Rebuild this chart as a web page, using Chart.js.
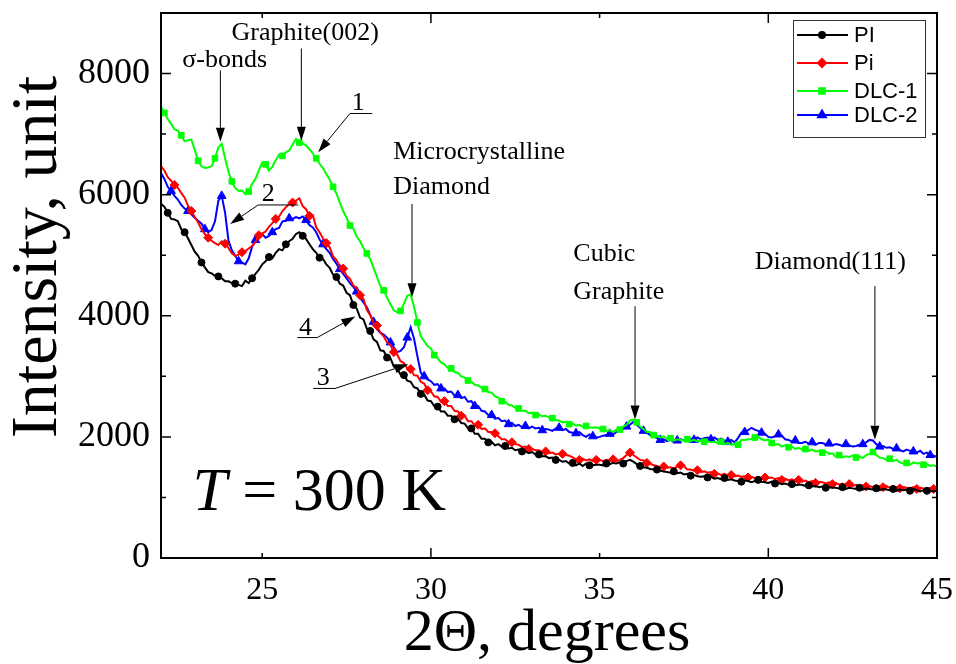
<!DOCTYPE html>
<html>
<head>
<meta charset="utf-8">
<script src="https://cdn.jsdelivr.net/npm/chart.js@4.4.1/dist/chart.umd.min.js"></script>
<style>
html,body{margin:0;padding:0;background:#fff;}
canvas{display:block;}
</style>
</head>
<body>
<canvas id="xrd" width="956" height="664"></canvas>
<script>
// 2Θ sampling grid, degrees
const twoTheta = [
22.0,22.1,22.2,22.3,22.4,22.5,22.6,22.7,22.8,22.9,
23.0,23.1,23.2,23.3,23.4,23.5,23.6,23.7,23.8,23.9,
24.0,24.1,24.2,24.3,24.4,24.5,24.6,24.7,24.8,24.9,
25.0,25.1,25.2,25.3,25.4,25.5,25.6,25.7,25.8,25.9,
26.0,26.1,26.2,26.3,26.4,26.5,26.6,26.7,26.8,26.9,
27.0,27.1,27.2,27.3,27.4,27.5,27.6,27.7,27.8,27.9,
28.0,28.1,28.2,28.3,28.4,28.5,28.6,28.7,28.8,28.9,
29.0,29.1,29.2,29.3,29.4,29.5,29.6,29.7,29.8,29.9,
30.0,30.1,30.2,30.3,30.4,30.5,30.6,30.7,30.8,30.9,
31.0,31.1,31.2,31.3,31.4,31.5,31.6,31.7,31.8,31.9,
32.0,32.1,32.2,32.3,32.4,32.5,32.6,32.7,32.8,32.9,
33.0,33.1,33.2,33.3,33.4,33.5,33.6,33.7,33.8,33.9,
34.0,34.1,34.2,34.3,34.4,34.5,34.6,34.7,34.8,34.9,
35.0,35.1,35.2,35.3,35.4,35.5,35.6,35.7,35.8,35.9,
36.0,36.1,36.2,36.3,36.4,36.5,36.6,36.7,36.8,36.9,
37.0,37.1,37.2,37.3,37.4,37.5,37.6,37.7,37.8,37.9,
38.0,38.1,38.2,38.3,38.4,38.5,38.6,38.7,38.8,38.9,
39.0,39.1,39.2,39.3,39.4,39.5,39.6,39.7,39.8,39.9,
40.0,40.1,40.2,40.3,40.4,40.5,40.6,40.7,40.8,40.9,
41.0,41.1,41.2,41.3,41.4,41.5,41.6,41.7,41.8,41.9,
42.0,42.1,42.2,42.3,42.4,42.5,42.6,42.7,42.8,42.9,
43.0,43.1,43.2,43.3,43.4,43.5,43.6,43.7,43.8,43.9,
44.0,44.1,44.2,44.3,44.4,44.5,44.6,44.7,44.8,44.9,
45.0];

// intensities
const seriesPI = [
5850,5800,5700,5600,5590,5560,5430,5380,5280,5170,
5060,4990,4880,4800,4720,4700,4660,4650,4620,4570,
4570,4540,4530,4510,4490,4580,4540,4620,4690,4760,
4850,4900,4970,4950,5040,5100,5080,5180,5230,5270,
5350,5380,5320,5270,5180,5100,5040,4960,4940,4850,
4790,4680,4640,4530,4500,4380,4340,4180,4120,3970,
3940,3790,3750,3610,3570,3430,3420,3310,3300,3160,
3130,3030,3020,2930,2910,2820,2800,2710,2700,2600,
2590,2510,2500,2420,2420,2350,2350,2290,2300,2230,
2220,2140,2140,2050,2050,1970,1970,1910,1920,1860,
1880,1840,1850,1810,1820,1780,1790,1760,1760,1730,
1750,1710,1710,1680,1680,1650,1660,1620,1620,1590,
1600,1560,1570,1530,1560,1520,1560,1530,1530,1540,
1540,1530,1560,1550,1570,1560,1580,1560,1600,1620,
1590,1550,1520,1500,1490,1470,1460,1460,1440,1430,
1420,1410,1430,1400,1410,1380,1390,1360,1370,1350,
1340,1350,1330,1340,1310,1320,1300,1320,1290,1300,
1280,1270,1260,1280,1270,1250,1270,1290,1260,1250,
1240,1260,1230,1240,1220,1230,1210,1220,1200,1210,
1210,1190,1200,1180,1190,1170,1180,1160,1170,1160,
1160,1150,1170,1140,1160,1150,1140,1160,1130,1150,
1140,1130,1150,1120,1140,1130,1120,1140,1110,1130,
1120,1130,1110,1140,1120,1100,1120,1110,1100,1110,
1100];

const seriesPi = [
6470,6400,6290,6230,6160,6110,6030,5950,5820,5730,
5630,5540,5430,5350,5290,5240,5200,5170,5230,5190,
5120,5030,4990,5010,5050,5070,5110,5150,5220,5330,
5360,5390,5470,5530,5600,5640,5730,5790,5850,5870,
5900,5940,5810,5760,5650,5660,5460,5380,5280,5200,
5130,4980,4920,4820,4780,4660,4610,4500,4460,4340,
4280,4100,4010,3880,3840,3720,3660,3560,3520,3400,
3360,3250,3220,3130,3120,3020,3010,2910,2880,2770,
2750,2670,2660,2580,2590,2510,2510,2430,2420,2350,
2350,2260,2260,2190,2200,2130,2140,2080,2080,2060,
2010,1960,1960,1910,1910,1880,1870,1830,1840,1800,
1800,1780,1780,1750,1760,1730,1740,1710,1720,1720,
1700,1690,1660,1630,1620,1640,1610,1630,1600,1620,
1620,1600,1620,1610,1630,1600,1620,1650,1700,1740,
1700,1660,1620,1610,1570,1560,1530,1520,1490,1510,
1490,1500,1480,1510,1530,1520,1460,1460,1440,1450,
1420,1430,1410,1420,1390,1400,1370,1390,1360,1370,
1350,1360,1340,1350,1330,1340,1320,1340,1310,1330,
1320,1330,1300,1320,1290,1310,1280,1300,1270,1290,
1260,1280,1250,1270,1240,1260,1250,1230,1250,1220,
1240,1210,1230,1200,1220,1190,1210,1180,1200,1180,
1190,1170,1200,1180,1170,1190,1160,1180,1170,1150,
1170,1160,1150,1170,1140,1160,1150,1130,1160,1140,
1140];

const seriesDLC1 = [
7450,7350,7250,7170,7080,7060,6980,6880,6900,6910,
6740,6560,6470,6440,6450,6470,6600,6780,6840,6600,
6380,6220,6110,6060,6070,6010,6050,6180,6260,6400,
6530,6500,6400,6460,6570,6660,6640,6700,6730,6830,
6920,6860,6850,6810,6750,6680,6600,6510,6440,6340,
6250,6130,6020,5870,5730,5620,5490,5440,5310,5230,
5120,5030,4940,4790,4640,4490,4420,4300,4190,4090,
4060,4080,4200,4330,4350,4150,3890,3660,3580,3500,
3460,3350,3300,3230,3200,3140,3130,3070,3060,3000,
2980,2930,2910,2860,2850,2810,2790,2740,2730,2670,
2650,2590,2580,2530,2520,2480,2470,2430,2430,2390,
2400,2360,2370,2340,2350,2320,2310,2280,2270,2240,
2250,2210,2220,2190,2200,2170,2180,2160,2150,2160,
2140,2130,2100,2110,2080,2120,2120,2170,2200,2270,
2290,2240,2170,2130,2080,2080,2030,2020,1990,2010,
1970,1980,1940,1960,1950,1940,1960,1930,1950,1920,
1940,1920,1930,1910,1920,1900,1920,1880,1900,1870,
1880,1870,1950,1950,1960,1960,1990,2000,1960,1940,
1960,1900,1870,1880,1840,1860,1830,1840,1800,1820,
1790,1800,1770,1790,1760,1770,1740,1760,1720,1730,
1670,1700,1660,1680,1670,1690,1660,1680,1650,1700,
1720,1750,1700,1660,1650,1620,1640,1600,1620,1580,
1560,1570,1540,1580,1560,1570,1540,1550,1520,1530,
1510];

const seriesDLC2 = [
6360,6260,6130,6060,5980,5920,5830,5770,5730,5670,
5620,5570,5520,5430,5380,5420,5560,5900,5980,5700,
5240,5080,4990,4900,4880,4850,4950,5140,5250,5320,
5350,5290,5320,5380,5430,5450,5560,5570,5610,5600,
5630,5610,5640,5580,5500,5460,5380,5260,5180,5100,
5040,4940,4860,4770,4690,4620,4540,4480,4400,4300,
4220,4140,4020,3900,3780,3720,3690,3640,3560,3480,
3400,3420,3480,3640,3810,3620,3330,3060,3000,2950,
2920,2860,2870,2800,2800,2740,2750,2680,2690,2640,
2660,2580,2590,2510,2510,2430,2420,2360,2360,2300,
2310,2260,2270,2210,2230,2180,2200,2160,2180,2140,
2170,2140,2150,2110,2130,2120,2100,2140,2150,2110,
2130,2080,2070,2060,2080,2030,2000,2040,2010,1990,
2000,2020,2030,2050,2040,2080,2100,2140,2170,2200,
2250,2200,2150,2100,2070,2030,2010,1980,1950,1960,
1930,1950,1920,1940,1960,1940,1990,1970,1950,1990,
1960,1980,1990,1960,1990,1950,1970,1940,1920,1950,
1910,1980,2070,2080,2110,2150,2120,2100,2070,2050,
2000,1990,2010,2040,2020,1960,1950,1920,1940,1900,
1900,1920,1890,1910,1870,1900,1900,1880,1890,1860,
1880,1870,1850,1880,1860,1840,1850,1870,1880,1910,
1950,1940,1880,1840,1850,1820,1830,1800,1810,1780,
1760,1790,1770,1760,1740,1770,1720,1740,1700,1690,
1670];

const seriesNames = ['PI', 'Pi', 'DLC-1', 'DLC-2'];

// axis ticks
const xTickValues = [25, 30, 35, 40, 45];
const xMajorTicks = [30, 40];
const yTickValues = [0, 2000, 4000, 6000, 8000];
const yMinorTicks = [1000, 3000, 5000, 7000];

// peak labels and arrows, in data coordinates
const noteTexts = [
  {text: 'σ-bonds', x: 22.63, y: 8110},
  {text: 'Graphite(002)', x: 24.09, y: 8546},
  {text: 'Microcrystalline', x: 28.88, y: 6590},
  {text: 'Diamond', x: 28.88, y: 6010},
  {text: 'Cubic', x: 34.22, y: 4900},
  {text: 'Graphite', x: 34.22, y: 4280},
  {text: 'Diamond(111)', x: 39.6, y: 4780}
];
const curveNumbers = [
  {text: '1', x: 27.85, y: 7390, lineFrom: 27.6, lineTo: 28.26, lineY: 7340, tip: [26.66, 6700]},
  {text: '2', x: 25.18, y: 5900, lineFrom: 24.88, lineTo: 26.07, lineY: 5830, tip: [24.05, 5515]},
  {text: '4', x: 26.28, y: 3690, lineFrom: 26.04, lineTo: 26.63, lineY: 3640, tip: [27.76, 3990], fromEnd: true},
  {text: '3', x: 26.81, y: 2850, lineFrom: 26.51, lineTo: 27.16, lineY: 2800, tip: [29.33, 3200], fromEnd: true}
];
const peakArrows = [
  {x: 23.76, from: 8050, to: 6874},
  {x: 26.16, from: 8414, to: 6890},
  {x: 29.44, from: 5847, to: 4306},
  {x: 36.05, from: 4157, to: 2286},
  {x: 43.16, from: 4489, to: 1954}
];

const serif = '"Liberation Serif", "Times New Roman", serif';

function series(label, values, color, style, r, phase) {
  return {
    label,
    data: values.map((v, i) => ({x: twoTheta[i], y: v})),
    borderColor: color,
    backgroundColor: color,
    borderWidth: 2,
    pointStyle: style,
    pointBackgroundColor: color,
    pointBorderColor: color,
    pointBorderWidth: 1,
    pointRadius: c => (c.index % 5 === phase ? r : 0),
    pointHoverRadius: 0,
    tension: 0
  };
}

function arrow(ctx, x1, y1, x2, y2) {
  const ang = Math.atan2(y2 - y1, x2 - x1), L = 14, W = 4.5;
  const bx = x2 - L * Math.cos(ang), by = y2 - L * Math.sin(ang);
  ctx.beginPath();
  ctx.moveTo(x1, y1); ctx.lineTo(bx, by);
  ctx.stroke();
  ctx.beginPath();
  ctx.moveTo(x2, y2);
  ctx.lineTo(bx + W * Math.sin(ang), by - W * Math.cos(ang));
  ctx.lineTo(bx - W * Math.sin(ang), by + W * Math.cos(ang));
  ctx.closePath();
  ctx.fill();
}

const decorations = {
  id: 'decorations',
  afterDatasetsDraw(chart) {
    const {ctx, chartArea: a, scales: {x, y}} = chart;
    const px = v => x.getPixelForValue(v), py = v => y.getPixelForValue(v);
    ctx.save();
    ctx.strokeStyle = '#000';
    ctx.fillStyle = '#000';

    // frame
    ctx.lineWidth = 2;
    ctx.strokeRect(a.left, a.top, a.right - a.left, a.bottom - a.top);

    // inward ticks on all four sides
    ctx.lineWidth = 1.5;
    ctx.beginPath();
    xTickValues.forEach(v => {
      const len = xMajorTicks.includes(v) ? 10 : 5, p = px(v);
      ctx.moveTo(p, a.bottom); ctx.lineTo(p, a.bottom - len);
      ctx.moveTo(p, a.top); ctx.lineTo(p, a.top + len);
    });
    yTickValues.concat(yMinorTicks).forEach(v => {
      const len = yMinorTicks.includes(v) ? 5 : 10, p = py(v);
      ctx.moveTo(a.left, p); ctx.lineTo(a.left + len, p);
      ctx.moveTo(a.right, p); ctx.lineTo(a.right - len, p);
    });
    ctx.stroke();

    // annotations
    ctx.lineWidth = 1;
    ctx.font = '26px ' + serif;
    ctx.textBaseline = 'alphabetic';
    ctx.textAlign = 'left';
    noteTexts.forEach(n => ctx.fillText(n.text, px(n.x), py(n.y)));
    peakArrows.forEach(p => arrow(ctx, px(p.x), py(p.from), px(p.x), py(p.to)));
    ctx.textAlign = 'center';
    curveNumbers.forEach(n => {
      ctx.fillText(n.text, px(n.x), py(n.y));
      ctx.beginPath();
      ctx.moveTo(px(n.lineFrom), py(n.lineY));
      ctx.lineTo(px(n.lineTo), py(n.lineY));
      ctx.stroke();
      const sx = px(n.fromEnd ? n.lineTo : n.lineFrom);
      arrow(ctx, sx, py(n.lineY), px(n.tip[0]), py(n.tip[1]));
    });

    // T = 300 K
    ctx.textAlign = 'left';
    const tx = px(22.93), ty = py(795);
    ctx.font = 'italic 62px ' + serif;
    ctx.fillText('T', tx, ty);
    const tw = ctx.measureText('T').width;
    ctx.font = '62px ' + serif;
    ctx.fillText(' = 300 K', tx + tw, ty);

    // axis titles
    ctx.font = '60px ' + serif;
    ctx.textAlign = 'center';
    ctx.fillText('2Θ, degrees', 547, 650);
    ctx.save();
    ctx.translate(56, 257);
    ctx.rotate(-Math.PI / 2);
    ctx.font = '66px ' + serif;
    ctx.fillText('Intensity, unit', 0, 0);
    ctx.restore();

    // legend box
    const lx = a.right - 144, ly = a.top + 7, lw = 132, lh = 117;
    ctx.fillStyle = '#fff';
    ctx.fillRect(lx, ly, lw, lh);
    ctx.strokeStyle = '#333';
    ctx.lineWidth = 1;
    ctx.strokeRect(lx + 0.5, ly + 0.5, lw, lh);
    const rowY = [22, 50, 78, 102];
    ctx.font = '22px "Liberation Sans", Arial, sans-serif';
    ctx.textAlign = 'left';
    ctx.textBaseline = 'middle';
    chart.data.datasets.forEach((ds, i) => {
      const yy = a.top + rowY[i];
      ctx.strokeStyle = ds.borderColor;
      ctx.fillStyle = ds.borderColor;
      ctx.lineWidth = 2;
      ctx.beginPath();
      ctx.moveTo(lx + 4, yy); ctx.lineTo(lx + 55, yy);
      ctx.stroke();
      Chart.helpers.drawPoint(ctx, {pointStyle: ds.pointStyle, rotation: 0, radius: ds.legendRadius, borderWidth: 1}, lx + 29, yy);
      ctx.fillStyle = '#000';
      ctx.fillText(ds.label, lx + 61, yy + 1);
    });
    ctx.restore();
  }
};

const datasets = [
  series(seriesNames[0], seriesPI, '#000000', 'circle', 3.5, 2),
  series(seriesNames[1], seriesPi, '#ff0000', 'rectRot', 4.5, 4),
  series(seriesNames[2], seriesDLC1, '#00ff00', 'rect', 4, 1),
  series(seriesNames[3], seriesDLC2, '#0000ff', 'triangle', 5, 3)
];
[3, 4, 4, 4.5].forEach((r, i) => datasets[i].legendRadius = r);

new Chart(document.getElementById('xrd'), {
  type: 'line',
  data: {datasets},
  options: {
    responsive: false,
    animation: false,
    devicePixelRatio: 1,
    layout: {padding: {left: 0, right: 19, top: 13, bottom: 0}},
    plugins: {legend: {display: false}, tooltip: {enabled: false}},
    scales: {
      x: {
        type: 'linear', min: 22, max: 45,
        grid: {display: false, drawTicks: false, tickLength: 0},
        border: {display: false},
        afterBuildTicks: s => { s.ticks = xTickValues.map(v => ({value: v})); },
        afterFit: s => { s.height = 106; s.paddingLeft = 0; s.paddingRight = 0; },
        ticks: {color: '#000', font: {family: serif, size: 32}, padding: 13, maxRotation: 0}
      },
      y: {
        type: 'linear', min: 0, max: 9000,
        grid: {display: false, drawTicks: false, tickLength: 0},
        border: {display: false},
        afterBuildTicks: s => { s.ticks = yTickValues.map(v => ({value: v})); },
        afterFit: s => { s.width = 161; s.paddingTop = 0; s.paddingBottom = 0; },
        ticks: {color: '#000', font: {family: serif, size: 36}, padding: 11, callback: v => String(v)}
      }
    }
  },
  plugins: [decorations]
});
</script>
</body>
</html>
